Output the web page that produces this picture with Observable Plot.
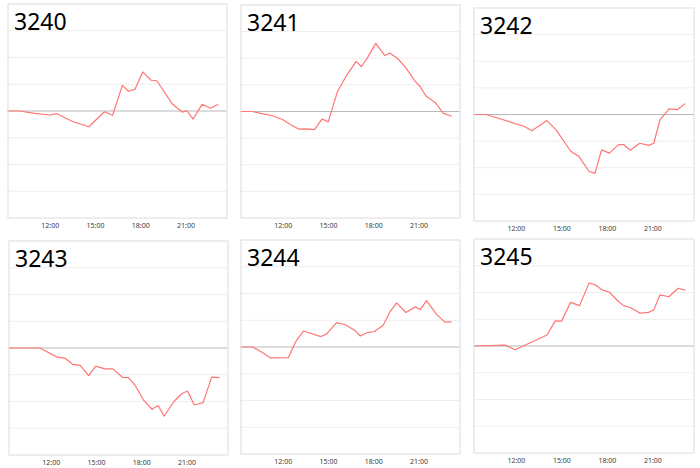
<!DOCTYPE html>
<html>
<head>
<meta charset="utf-8">
<script src="https://cdn.jsdelivr.net/npm/d3@7"></script>
<script src="https://cdn.jsdelivr.net/npm/@observablehq/plot@0.6"></script>
<style>
  body { margin: 0; background: #fff; }
  #wrap { position: relative; width: 700px; height: 468px; overflow: hidden; background: #fff; }
  #wrap svg { position: absolute; }
</style>
</head>
<body>
<div id="wrap"></div>
<script>
// ---- data ----
const panelNames = ["3240", "3241", "3242", "3243", "3244", "3245"];
const tickLabels = ["12:00", "15:00", "18:00", "21:00"];
const gridLevels = [-3, -2, -1, 0, 1, 2, 3];

const times3240 = ["09:12","09:58","10:58","11:58","12:26","13:31","14:34","15:35","16:08","16:47","17:11","17:37","18:08","18:41","19:04","20:07","20:44","21:04","21:28","22:04","22:37","23:07"];
const values3240 = [0, 0, -0.09, -0.15, -0.1, -0.4, -0.59, -0.03, -0.16, 0.96, 0.74, 0.81, 1.46, 1.15, 1.13, 0.25, -0.04, 0.01, -0.3, 0.25, 0.1, 0.24];

const times3241 = ["09:12","09:58","10:30","11:14","11:55","12:28","13:01","13:32","14:04","14:35","14:59","15:35","16:12","16:50","17:11","17:37","18:08","18:44","19:04","19:35","20:08","20:44","21:04","21:28","22:04","22:37","23:08"];
const values3241 = [0, 0, -0.07, -0.15, -0.29, -0.49, -0.66, -0.65, -0.68, -0.28, -0.39, 0.73, 1.36, 1.88, 1.68, 2.05, 2.56, 2.1, 2.2, 1.99, 1.64, 1.14, 0.94, 0.58, 0.34, -0.07, -0.17];

const times3242 = ["09:12","10:00","12:30","13:01","14:01","14:37","15:35","16:08","16:47","17:11","17:37","18:08","18:44","19:04","19:31","20:08","20:44","21:04","21:28","22:04","22:37","23:07"];
const values3242 = [0, 0, -0.44, -0.61, -0.23, -0.58, -1.38, -1.58, -2.13, -2.21, -1.33, -1.45, -1.13, -1.13, -1.34, -1.08, -1.16, -1.08, -0.2, 0.21, 0.18, 0.4];

const times3243 = ["09:12","11:14","12:24","12:55","13:25","13:55","14:29","14:57","15:33","16:05","16:44","17:07","17:34","18:08","18:41","19:05","19:29","20:08","20:40","21:02","21:29","22:04","22:38","23:08"];
const values3243 = [0, 0, -0.34, -0.38, -0.61, -0.65, -1.03, -0.68, -0.78, -0.78, -1.1, -1.11, -1.4, -1.96, -2.29, -2.15, -2.55, -2.0, -1.7, -1.61, -2.13, -2.04, -1.09, -1.11];

const times3244 = ["09:12","09:58","10:29","11:10","12:20","12:49","13:21","14:30","14:53","15:31","16:05","16:44","17:06","17:35","18:02","18:37","19:04","19:31","20:08","20:45","21:05","21:30","22:08","22:43","23:07"];
const values3244 = [0, 0, -0.16, -0.41, -0.4, 0.19, 0.6, 0.39, 0.49, 0.9, 0.84, 0.63, 0.41, 0.54, 0.58, 0.8, 1.31, 1.65, 1.29, 1.5, 1.4, 1.73, 1.24, 0.93, 0.94];

const times3245 = ["09:12","11:17","11:55","14:01","14:34","14:59","15:34","16:10","16:47","17:10","17:37","18:08","18:40","19:04","19:31","20:08","20:44","21:04","21:28","22:04","22:40","23:07"];
const values3245 = [0, 0.03, -0.14, 0.41, 0.94, 0.93, 1.63, 1.51, 2.35, 2.3, 2.11, 2.01, 1.7, 1.51, 1.44, 1.23, 1.26, 1.35, 1.91, 1.84, 2.16, 2.09];

const panelTimes = [times3240, times3241, times3242, times3243, times3244, times3245];
const panelValues = [values3240, values3241, values3242, values3243, values3244, values3245];

// ---- layout ----
const boxes = [
  {x: 7,   y: 3,   w: 219, h: 214},
  {x: 240, y: 4,   w: 219, h: 213},
  {x: 473, y: 7,   w: 220, h: 213},
  {x: 8,   y: 240, w: 219, h: 214},
  {x: 240, y: 239, w: 219, h: 214},
  {x: 473, y: 238, w: 220, h: 214}
];

const parse = d3.utcParse("%H:%M");
const xDomain = ["09:12", "23:43"].map(parse);
const tickDates = tickLabels.map(parse);
const wrap = document.getElementById("wrap");

panelNames.forEach((name, i) => {
  const b = boxes[i];
  const data = panelTimes[i].map((t, j) => ({t: parse(t), v: panelValues[i][j]}));
  const svg = Plot.plot({
    width: b.w + 1,
    height: b.h + 1 + 14,
    marginLeft: 0.5, marginRight: 0.5, marginTop: 0.5, marginBottom: 14.5,
    x: {type: "utc", domain: xDomain},
    y: {domain: [-4, 4], axis: null},
    style: {fontFamily: "'Noto Sans', sans-serif", background: "transparent", color: "#3a3a3a", overflow: "visible"},
    marks: [
      Plot.ruleY(gridLevels.filter(d => d !== 0), {stroke: "#eeeeee", strokeWidth: 1}),
      Plot.ruleY(gridLevels.filter(d => d === 0), {stroke: "#b8b8b8", strokeWidth: 1}),
      Plot.line(data, {x: "t", y: "v", stroke: "#ff7575", strokeWidth: 1.2}),
      Plot.frame({stroke: "#dcdcdc"}),
      Plot.axisX({ticks: tickDates, tickFormat: d3.utcFormat("%H:%M"), tickSize: 0, tickPadding: 5, fontSize: 7, label: null}),
      Plot.text([name], {text: d => d, frameAnchor: "top-left", dx: 6, dy: 26, lineAnchor: "bottom", textAnchor: "start", fontSize: 23, fill: "#000"})
    ]
  });
  svg.style.left = b.x + "px";
  svg.style.top = b.y + "px";
  wrap.appendChild(svg);
});
</script>
</body>
</html>
